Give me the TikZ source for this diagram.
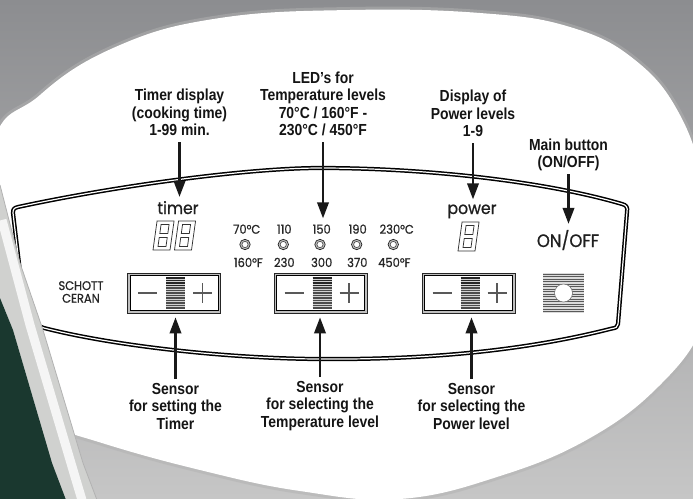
\documentclass[tikz,border=0pt]{standalone}
\usepackage{fontspec}
\usetikzlibrary{arrows.meta,calc}
\newfontfamily\lblfont{Liberation Sans}[FakeStretch=0.87]
\newfontfamily\pnlfont{Poppins}[FakeStretch=0.92,FakeBold=0.8]
\definecolor{bgtop}{RGB}{140,141,144}
\definecolor{bgbot}{RGB}{198,198,198}
\definecolor{kettle}{RGB}{26,56,47}
\definecolor{bandc}{RGB}{208,209,207}
\begin{document}
\begin{tikzpicture}[x=1pt,y=-1pt,
  lbl/.style={font=\lblfont\bfseries\fontsize{16}{17.5}\selectfont, align=center, inner sep=0pt, text=black!92},
  pnl/.style={font=\pnlfont\fontsize{17}{18}\selectfont, inner sep=0pt, text=black!88, anchor=base},
  ledtxt/.style={font=\pnlfont\fontsize{12.5}{13}\selectfont, inner sep=0pt, anchor=base, text=black!85},
  arr/.style={line width=2.2pt, draw=black!90, -{Triangle[length=16pt,width=11.5pt]}},
  panelline/.style={draw=black, line width=1.5pt, double=white, double distance=1.2pt, line join=round},
  sbox/.style={draw=black!85, line width=0.8pt, fill=gray!50, minimum width=93pt, minimum height=40pt, inner sep=0pt},
  sensorinner/.pic={
    \draw[black, line width=1pt, fill=white] (-44,-17.5) rectangle (44,17.5);
    \draw[black!65, line width=1.7pt] (-36,0) -- (-17,0);
    \draw[black!65, line width=1.7pt] (19,0) -- (38,0) (28.5,-10) -- (28.5,10);
    \fill[gray!35] (-8,-16) rectangle (11,16);
    \foreach \k in {0,...,12} {\draw[black!70, line width=1.3pt] (-8,-15+\k*2.5) -- (11,-15+\k*2.5);}
    \foreach \k in {0,...,3} {\draw[black!85, line width=1.3pt] (-8,-15+\k*2.5) -- (11,-15+\k*2.5);}
  },
  lamp/.pic={
    \draw[black!85, line width=0.7pt, fill=gray!50] (0,0) circle (5.2);
    \draw[black!75, line width=0.6pt, fill=white] (0,0) circle (3.1);
  },
  digit/.pic={
    \begin{scope}[xslant=0.14, black!80, line width=0.75pt]
      \draw (0,0) rectangle (17,-29);
      \draw (4.5,-3.5) rectangle (12.5,-12.5);
      \draw (4.5,-16.5) rectangle (12.5,-25.5);
    \end{scope}
  }
]
\path[use as bounding box] (0,0) rectangle (693,498);
\clip (0,0) rectangle (693,498);
% background
\shade[top color=bgtop, bottom color=bgbot] (0,0) rectangle (693,498);
% white magnifier shape with soft edge
\draw[gray!60, line width=6pt, opacity=0.5] plot[smooth cycle, tension=0.7] coordinates {(-10,160) (40,95) (120,45) (220,18) (350,10) (480,13) (570,27) (635,60) (680,115) (705,190) (712,260) (703,325) (660,385) (590,438) (500,476) (400,499) (300,491) (200,470) (102,443) (40,420) (-10,380)};
\fill[white] plot[smooth cycle, tension=0.7] coordinates {(-10,160) (40,95) (120,45) (220,18) (350,10) (480,13) (570,27) (635,60) (680,115) (705,190) (712,260) (703,325) (660,385) (590,438) (500,476) (400,499) (300,491) (200,470) (102,443) (40,420) (-10,380)};

% panel outline
\draw[panelline] (13,213) .. controls (13,209) and (14,208) .. (18,207)
  .. controls (120,185) and (250,168) .. (320,168)
  .. controls (420,168) and (540,180) .. (622,204)
  .. controls (626,205) and (628,207) .. (627,212)
  -- (618,324)
  .. controls (617.5,327) and (616,328) .. (612,328.5)
  .. controls (520,352) and (420,360) .. (315,359)
  .. controls (220,358) and (110,345) .. (44,328)
  -- (30,323) .. controls (27,322) and (26,321) .. (25.5,318)
  -- cycle;

% left appliance edge and body
\fill[bandc] (0,185) -- (20,263) -- (43,330) -- (83,463) -- (97,500) -- (66,500) -- (52,463) -- (13,330) -- (0,298) -- cycle;
\draw[white!92!gray, line width=9pt] (2,220) -- (30,325) -- (76,480) -- (82,500);
\draw[gray!60, line width=0.8pt] (0,185) -- (20,263) -- (43,330) -- (83,463) -- (97,500);
\fill[kettle] (0,298) -- (13,330) -- (52,463) -- (66,500) -- (-2,500) -- cycle;

% panel texts
\node[pnl] (timerword) at (178,214) {timer};
\node[pnl] (powerword) at (472,214) {power};
\node[pnl, font=\pnlfont\fontsize{18}{19}\selectfont] (onoff) at (568,247) {ON/OFF};
\node[ledtxt] (schott) at (81,290) {SCHOTT};
\node[ledtxt] (ceran) at (81,302.7) {CERAN};

% digits
\pic at (153,250) {digit};
\pic at (174.5,250) {digit};
\pic at (458,251) {digit};

% LED scale
\node[ledtxt] (t70) at (246.7,233.7) {70°C};
\node[ledtxt] (t110) at (284.3,233.7) {110};
\node[ledtxt] (t150) at (321.7,233.7) {150};
\node[ledtxt] (t190) at (357.7,233.7) {190};
\node[ledtxt] (t230) at (396.7,233.7) {230°C};
\pic at (245,244.5) {lamp};
\pic at (283.3,244.5) {lamp};
\pic at (320,244.5) {lamp};
\pic at (356.7,244.5) {lamp};
\pic at (393.3,244.5) {lamp};
\node[ledtxt] (f160) at (248.3,267) {160°F};
\node[ledtxt] (f230) at (284.3,267) {230};
\node[ledtxt] (f300) at (321.7,267) {300};
\node[ledtxt] (f370) at (357.3,267) {370};
\node[ledtxt] (f450) at (394.3,267) {450°F};

% sensor boxes
\node[sbox] (sb1) at (174,293) {};
\pic at (sb1.center) {sensorinner};
\node[sbox] (sb2) at (320.5,293) {};
\pic at (sb2.center) {sensorinner};
\node[sbox] (sb3) at (468.5,293) {};
\pic at (sb3.center) {sensorinner};

% main button
\node[minimum width=41pt, minimum height=40pt, inner sep=0pt, fill=gray!28] (mainbtn) at (563.5,293) {};
\foreach \k in {0,...,15} {\draw[black!65, line width=1.3pt] (543,274.3+\k*2.5) -- (584,274.3+\k*2.5);}
\draw[black!60, line width=0.5pt, fill=white] (mainbtn.center) circle (9);

% labels
\node[lbl] (lblTimer) at (179.5,112.5) {Timer display\\(cooking time)\\1-99 min.};
\node[lbl] (lblLED) at (323,104) {LED’s for\\Temperature levels\\70°C / 160°F -\\230°C / 450°F};
\node[lbl] (lblPower) at (473,113.5) {Display of\\Power levels\\1-9};
\node[lbl] (lblMain) at (568.5,155) {Main button\\(ON/OFF)};
\node[lbl] (lblS1) at (175.5,406) {Sensor\\for setting the\\Timer};
\node[lbl] (lblS2) at (320,406) {Sensor\\for selecting the\\Temperature level};
\node[lbl] (lblS3) at (471.5,406) {Sensor\\for selecting the\\Power level};

% arrows
\draw[arr, shorten >=4pt] ([yshift=-6pt]lblTimer.south) -- (lblTimer.south |- timerword.north);
\draw[arr, shorten >=6pt] ([yshift=-6pt]lblLED.south) -- (lblLED.south |- t150.north);
\draw[arr, shorten >=5pt] ([yshift=-6pt]lblPower.south) -- (lblPower.south |- powerword.north);
\draw[arr, shorten >=6pt] ([yshift=-3pt]lblMain.south) -- (lblMain.south |- onoff.north);
\draw[arr, shorten >=4pt] ([yshift=4pt]lblS1.north) -- (lblS1.north |- sb1.south);
\draw[arr, shorten >=4pt] ([yshift=4pt]lblS2.north) -- (lblS2.north |- sb2.south);
\draw[arr, shorten >=4pt] ([yshift=4pt]lblS3.north) -- (lblS3.north |- sb3.south);
\end{tikzpicture}
\end{document}
